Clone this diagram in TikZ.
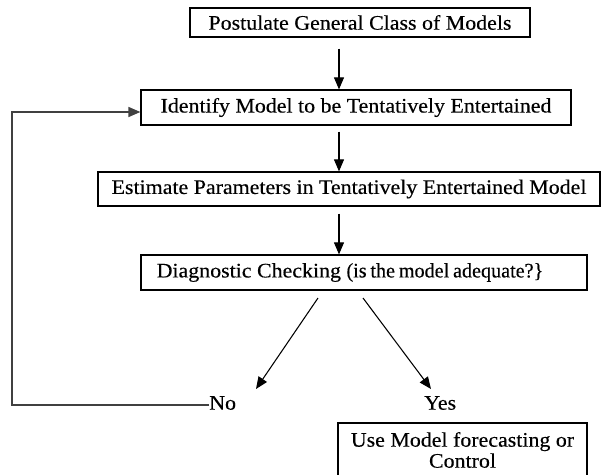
\documentclass[tikz,border=0pt]{standalone}
\usepackage{fontspec}
\setmainfont[FakeStretch=1.06,FakeBold=0.3]{Liberation Serif}
\usetikzlibrary{arrows.meta}

\begin{document}
\begin{tikzpicture}[x=0.75pt,y=0.75pt,yscale=-1,xscale=1,
  box/.style={draw, line width=0.9pt, inner sep=0pt, align=center, font=\fontsize{15.5pt}{15.75pt}\selectfont},
  lbl/.style={inner sep=0pt, font=\fontsize{15.5pt}{15.75pt}\selectfont},
  arr/.style={line width=0.8pt, -{Triangle[length=9pt,width=7.5pt]}}]
\useasboundingbox (0,0) rectangle (601,475);

% Boxes
\node[box, minimum width=255pt, minimum height=21.75pt] (postulate) at (360,22.5) {Postulate General Class of Models};
\node[box, minimum width=322.5pt, minimum height=26.25pt] (identify) at (356,107.5) {Identify Model to be Tentatively Entertained};
\node[box, minimum width=376.5pt, minimum height=25.5pt] (estimate) at (349,189) {Estimate Parameters in Tentatively Entertained Model};
\node[box, minimum width=334.5pt, minimum height=26.25pt] (diagnostic) at (364,272.5) {};
\node[box, minimum width=186.75pt, minimum height=40.5pt] (usemodel) at (462.5,450) {Use Model forecasting or\\Control};

% Text Node
\node[lbl, anchor=west] (diagtext) at ([xshift=12pt]diagnostic.west) {Diagnostic Checking \scalebox{0.92}[1]{\spaceskip=0.2em (is the model adequate?\}}};
% Text Node
\node[lbl, anchor=west] (no) at (209,403) {No};
% Text Node
\node[lbl, anchor=west] (yes) at (424,403) {Yes};

% Coordinates
\coordinate (axis) at (339,0);
\coordinate (nostart) at (318,298);
\coordinate (noend) at (256,389);
\coordinate (yesstart) at (363,298);
\coordinate (yesend) at (431,389);
\coordinate (loopbot) at (12,405);
\coordinate (looptop) at (12,112);

% Arrows
\draw[arr, shorten <=8.25pt] (postulate.south -| axis) -- (identify.north -| axis);
\draw[arr, shorten <=4.5pt] (identify.south -| axis) -- (estimate.north -| axis);
\draw[arr, shorten <=5.25pt] (estimate.south -| axis) -- (diagnostic.north -| axis);
\draw[arr] (nostart) -- (noend);
\draw[arr] (yesstart) -- (yesend);

% Feedback
\draw[arr, draw=black!75, line width=1.1pt] (no.west |- loopbot) -- (loopbot) -- (looptop) -- (identify.west |- looptop);

\end{tikzpicture}
\end{document}
